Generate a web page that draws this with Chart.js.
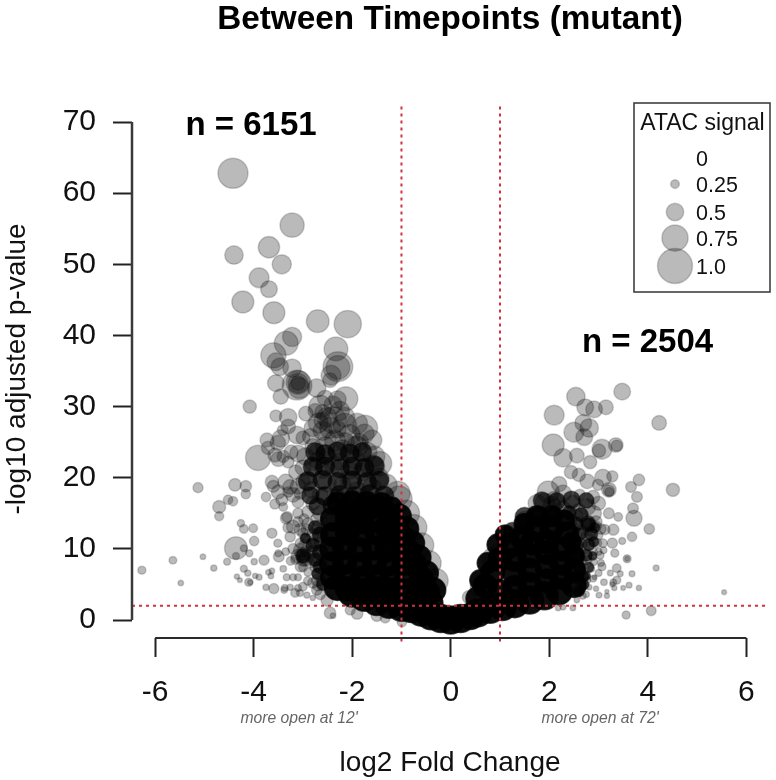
<!DOCTYPE html>
<html><head><meta charset="utf-8">
<style>html,body{margin:0;padding:0;background:#fff}canvas{display:block;filter:blur(0.45px)}</style>
<script src="https://cdn.jsdelivr.net/npm/chart.js@4"></script>
</head><body><canvas id="c" width="776" height="780"></canvas>
<script>
// [log2FC, -log10 padj, ATAC signal]
const leftHigh=[[-4.42,62.8,.86],[-3.22,55.5,.69],[-3.69,52.4,.61],[-4.40,51.3,.53],[-3.43,50,.55],[-3.89,48.1,.57],[-3.69,46.5,.48],[-4.22,44.7,.63],[-3.59,43.2,.63],[-2.7,42,.65],[-2.09,41.6,.78],[-3.22,39.8,.55],[-3.34,38.9,.68],[-3.6,37.2,.72],[-3.55,36.3,.51],[-3.47,35.6,.5],[-3.22,35.4,.53],[-2.33,38.1,.68],[-2.29,35.6,.85],[-2.29,35.5,.68],[-2.43,34.4,.57],[-3.1,33.4,.68],[-3.1,33.3,.57],[-3.1,33.3,.42],[-3.12,33,.85],[-3.08,32.6,.6],[-3.55,33.3,.48],[-2.72,32.6,.53]];
const leftMid=[[-3.45,31.4,.44],[-2.45,33.7,.42],[-2.13,31.1,.69],[-4.08,30,.38],[-3.55,28.7,.34],[-3.3,28.5,.5],[-2.94,29,.42],[-2.65,30,.65],[-2.39,30.2,.52],[-2.39,28.1,.76],[-2.15,28.5,.57],[-2.51,28.5,.57],[-2.69,27.7,.57],[-1.74,27,.72],[-2.15,27.4,.67],[-2.3,26.8,.5],[-2.6,29.2,.45],[-3.41,26.7,.31],[-3.12,26,.5],[-3.73,25.3,.4],[-3.51,24.9,.44],[-3.71,24.2,.38],[-3.91,22.8,.72],[-3.24,23.6,.4],[-3.57,23.2,.4],[-3.3,22.2,.34],[-3.4,23,.35],[-3,25.6,.4],[-2.51,25.6,.5],[-2.72,23.6,.48],[-2.39,21.8,.5],[-1.7,23.6,.57],[-1.6,25.3,.57],[-1.44,22,.68],[-1.58,21.5,.67],[-1.07,17.8,.69],[-2.8,24.4,.45],[-2.7,22.4,.48],[-2.5,23,.5],[-2.2,24,.55],[-2,24.6,.5],[-1.95,22.6,.55],[-2.25,22.3,.5],[-2.6,21,.45],[-2.05,21,.5],[-1.8,20.8,.5],[-2.83,22,.4],[-1.85,25,.5],[-1.45,20,.55],[-1.3,19,.6],[-2.8,27,.5],[-2.6,26.6,.55],[-2.45,27,.6],[-2.25,29.4,.55],[-2.05,26,.6],[-1.9,27.6,.6],[-2.35,25.2,.6],[-2.85,25.8,.45],[-2.6,28,.5],[-2.75,29.4,.42],[-2.3,31,.5],[-2.55,31.2,.45],[-1.9,24.4,.6],[-1.55,23,.6],[-1.75,26.2,.55],[-2.55,24.4,.55],[-2.15,25,.55],[-3.45,25.5,.5],[-3.3,27.2,.42],[-3.1,23.4,.48],[-3.5,22.6,.42],[-3.35,19.4,.45],[-3.2,17.6,.42],[-3.5,18,.4],[-3.1,18.8,.45],[-3,21.4,.45],[-3.15,20.8,.4],[-2.95,23,.5]];
const leftFringe=[[-3.63,19.4,.38],[-3.6,18.8,.35],[-3.26,18.7,.42],[-3.3,18,.3],[-3.06,17.8,.34],[-3.57,16.3,.29],[-3.43,16.9,.34],[-3.32,14.5,.31],[-3.1,16.6,.34],[-2.82,18.3,.48],[-2.51,19.3,.53],[-2.04,19.7,.57],[-2.8,16.4,.4],[-3.0,19.5,.4],[-3.4,15.9,.25],[-2.9,20,.4],[-2.2,19,.5],[-2.65,17.6,.45],[-2.3,17.2,.5],[-1.9,18.2,.5],[-1.6,18.6,.55],[-2.98,14.2,.3],[-3,9.1,.45],[-3,9.2,.35],[-2.95,9.6,.3],[-3.2,13.1,.38],[-3.34,14.3,.33],[-2.9,6.7,.23],[-2.8,5.2,.3],[-3.06,12.7,.34],[-2.82,10.8,.3],[-3.06,10.8,.28],[-3.26,11.7,.3],[-3.15,8.5,.28],[-2.92,12.7,.33],[-2.72,14.1,.35],[-3.33,6,.2],[-3.2,6,.2],[-3.1,6,.2],[-3.06,3.8,.2],[-3.16,3.8,.25],[-2.92,3.5,.18],[-2.8,3.1,.15],[-2.72,4.2,.3],[-3.26,4.6,.18],[-3.1,4.5,.2],[-3.37,4.5,.2],[-2.51,2.8,.35],[-2.62,5.6,.3],[-2.62,8.4,.32],[-2.65,10.8,.35],[-2.75,7.5,.3],[-2.85,8.8,.28],[-2.6,12.5,.35],[-3.0,7.4,.25],[-2.95,11.5,.26],[-3.1,13.8,.3],[-3,12.2,.3],[-2.9,13.5,.35],[-2.8,12,.35],[-2.95,10.4,.4],[-2.8,9.6,.35],[-3.05,9.8,.4],[-2.85,8,.3],[-2.7,6.5,.3],[-2.9,5.5,.25],[-3,4.7,.25],[-2.7,5.6,.35],[-2.65,3.6,.3],[-3.3,13,.3],[-3.2,10,.3],[-3.35,9.6,.22],[-3.25,8.3,.25],[-3.05,7.5,.3],[-3.1,9,.4],[-2.95,8.6,.42],[-3,8.4,.35],[-2.75,11,.4],[-2.68,13,.4],[-2.65,15,.42],[-2.9,15.2,.35],[-3.1,15,.3],[-2.7,4.8,.3],[-.3,5.5,.7],[-.45,8,.72],[-.6,10.5,.72],[-.75,13,.75],[-.9,15,.75],[-1.05,17,.75]];
const leftSparse=[[-6.27,7,.23],[-5.64,8.4,.22],[-5.48,5.2,.16],[-5.03,8.9,.16],[-5.13,18.6,.29],[-4.81,7.3,.18],[-4.54,8.2,.2],[-4.7,15.9,.37],[-4.7,14.6,.26],[-4.52,16.9,.27],[-4.42,16.7,.27],[-4.38,19,.36],[-4.16,18.8,.33],[-4.16,17.7,.27],[-3.75,17.3,.27],[-4.36,10.1,.65],[-4.26,13.6,.21],[-4.2,12.8,.25],[-4.01,12.9,.25],[-3.99,11.1,.27],[-4.2,10.1,.2],[-4.36,9,.2],[-4.09,9.4,.2],[-3.99,8.2,.18],[-3.79,8.4,.29],[-3.63,12.2,.29],[-3.51,10.8,.23],[-3.49,8.9,.31],[-3.5,9.4,.2],[-4.2,7.2,.2],[-4.12,6.6,.18],[-4.34,6.1,.15],[-4.28,5.6,.14],[-4.1,5.3,.23],[-4.07,5.3,.15],[-3.97,6.2,.15],[-3.89,6,.17],[-3.7,6.7,.16],[-3.63,6.9,.16],[-3.65,6.2,.16],[-3.4,7.2,.19],[-3.75,4.6,.18],[-3.59,4.4,.29],[-3.38,4.2,.19],[-2.45,1,.33],[-2.39,.6,.16],[-1.9,.9,.33],[-2.04,1.4,.29],[-1.5,.6,.33],[-1.33,.3,.29],[-.99,-.3,.27]];
const rightHigh=[[3.48,32.1,.48],[2.54,31.4,.53],[2.1,28.8,.57],[2.73,29.9,.48],[2.91,29.6,.48],[3.15,29.9,.42],[4.23,27.7,.42],[2.5,26.4,.57],[2.81,27,.53],[2.69,27.7,.48],[2.71,25.7,.48],[2.08,24.6,.63],[2.28,22.8,.53],[2.56,23.1,.42],[3.07,24,.57],[3.01,23.8,.38],[3.35,24.6,.42],[3.37,24.5,.32],[2.83,22.2,.38],[2.44,20.8,.38],[2.6,20.4,.38],[2.77,19.5,.42],[2.2,19.1,.44],[3.09,20,.48],[3.28,20.2,.32],[3.82,19.7,.33],[3.66,18.7,.31],[4.51,18.3,.38],[3.78,17.3,.31],[3.21,18.3,.42],[3.21,18.2,.32],[2.99,19,.32],[3.22,18,.26],[3.7,15.7,.31],[3.72,14.3,.46],[3.4,14.5,.25],[3.21,15,.31],[4.03,12.8,.3],[3.68,11.7,.27],[3.48,11.1,.2],[3.3,12.7,.32],[3.13,12.7,.29]];
const rightSparse=[[3.58,8.6,.23],[3.58,8.6,.14],[4.17,7.3,.17],[3.37,7.3,.25],[3.68,6.5,.17],[3.44,6.5,.17],[3.37,5.6,.23],[3.62,4.9,.17],[3.5,4.5,.14],[3.82,4.5,.15],[5.55,3.9,.14],[3.56,.7,.23],[4.07,1.3,.28],[3.17,3.4,.15],[3.01,3.5,.17],[3.17,4,.12],[3.3,5.3,.19],[3.28,5,.14],[3.32,4.5,.15],[3.11,5.3,.19],[2.89,5.8,.19],[2.92,6,.14],[3.24,6.6,.17],[3.07,7.5,.23],[3.03,9.1,.23],[3.33,9.4,.23],[3.28,10.8,.29],[3.09,10.8,.25],[2.97,10.8,.27],[2.77,8.4,.27],[2.81,4.6,.16],[2.56,2.8,.16],[2.48,1.7,.16],[2.18,1.7,.16],[2.28,1.8,.16],[2.9,9.6,.22],[3.1,9.8,.2],[3,9.6,.2],[2.9,8.2,.22],[3.05,8,.2],[3,6.6,.2],[2.85,7.2,.2],[2.75,3.6,.18],[2.95,4.4,.15],[2.68,3.4,.2]];
const rightFringe=[[1.98,18,.63],[1.91,16.4,.57],[1.75,16.4,.51],[2.28,17.8,.48],[2.48,16.4,.46],[2.77,15.9,.48],[2.89,17.3,.38],[2.62,17.6,.32],[1.51,13.8,.61],[1.2,11.9,.53],[.86,8.7,.61],[1,9.4,.6],[.6,4.6,.57],[.37,3.2,.38],[2.78,13.6,.46],[2.78,13.6,.42],[2.78,13.7,.38],[2.76,13.5,.34],[2.28,15.5,.48],[2.52,14.5,.46],[2.48,12.7,.4],[2.76,11.7,.35],[2.48,9.4,.3],[2.62,7,.3],[2.56,4.2,.3],[2.77,5.6,.2],[2.05,16.2,.5],[2.1,15.9,.45],[2.6,15.4,.4],[2.72,10,.3],[2.65,8.4,.3],[2.85,12.5,.3],[2.95,13.2,.3],[3,11.9,.25],[2.62,5.4,.3],[2.1,17,.45],[2.4,14,.45],[2.65,12.4,.4],[2.65,10.7,.35],[2.9,15,.45],[3,16.4,.4],[2.95,13.8,.35],[3.05,12.8,.3]];
const darkCoreLeft=[[-2.75,23.6,.55],[-2.55,23.3,.55],[-2.3,23.7,.55],[-2.05,23.4,.55],[-1.8,23.6,.55],[-2.8,21.5,.55],[-2.55,21.6,.55],[-2.25,21.3,.55],[-2,21.6,.55],[-1.75,21.4,.55],[-1.55,21.7,.55],[-2.9,19.5,.55],[-2.6,19.7,.55],[-2.3,19.4,.55],[-2,19.6,.55],[-1.7,19.4,.55],[-1.45,19.6,.55],[-2.85,17.5,.5],[-2.55,17.4,.55],[-2.25,17.6,.55],[-1.95,17.4,.55],[-1.65,17.7,.55],[-1.35,17.5,.55],[-2.7,16,.5],[-2.4,16.1,.55],[-2.1,15.9,.55],[-1.8,16.2,.55],[-1.5,16,.55],[-2.75,13,.4],[-2.8,10.5,.4],[-2.75,8.5,.4],[-2.7,6.5,.35],[-3,9,.4],[-2.95,11.5,.3],[-2.65,12,.45],[-2.65,9.5,.45],[-2.65,7.5,.4],[-2.6,5,.35]];
const darkCoreRight=[[2.1,15,.4],[2.4,15.1,.4],[2.65,14.8,.4],[2.55,13.5,.4],[2.8,13.4,.4],[2.6,12,.4],[2.85,12.1,.38],[2.55,10.5,.4],[2.8,10.6,.35],[2.55,9,.4],[2.75,9.1,.35],[2.6,7.5,.35],[2.8,7.4,.3],[2.55,6,.35],[2.7,6.1,.3],[1.85,16.8,.5],[2.15,16.7,.5],[2.45,16.9,.5],[2.75,16.8,.45],[1.5,14.5,.55],[1.8,14.6,.55],[1.25,12.5,.5],[2.9,11,.3],[2.92,13,.3],[2.7,5,.3],[2.75,6.2,.25],[2.88,9,.25],[2.6,4,.3]];
const blackCoreLeft=[[0,0,.8],[-.2,.2,.8],[.2,.2,.8],[-.4,.6,.8],[.4,.5,.75],[-.6,1.1,.8],[-.8,1.6,.8],[-1,1.8,.8],[-1.25,2.2,.8],[-1.5,2.6,.8],[-1.75,3.2,.8],[-2,3.8,.8],[-2.3,4.6,.75],[-.47,3.9,.68],[-.6,5.8,.68],[-.72,7.7,.68],[-.85,9.6,.68],[-.97,11.5,.68],[-1.1,13,.68],[-1.22,14.3,.68],[-1.5,15.9,.68],[-1.8,15.4,.68],[-2.1,14.7,.68],[-2.4,14.2,.68],[-2.4,12,.68],[-2.1,12.2,.68],[-1.8,12,.68],[-1.5,12.2,.68],[-1.25,11.8,.68],[-2.42,10,.68],[-2.15,10.2,.68],[-1.85,9.9,.68],[-1.55,10.1,.68],[-1.3,9.8,.68],[-1.05,9.9,.68],[-2.42,7.9,.68],[-2.15,8.1,.68],[-1.85,7.8,.68],[-1.55,8,.68],[-1.25,7.9,.68],[-.95,7.9,.68],[-2.4,6,.68],[-2.1,6.1,.68],[-1.8,5.9,.68],[-1.5,6.1,.68],[-1.2,5.9,.68],[-.9,6,.68],[-2.1,4.4,.68],[-1.8,4.2,.68],[-1.5,4.4,.68],[-1.2,4.2,.68],[-.9,4.1,.68],[-.65,3.9,.68],[-.4,2.4,.68],[-.7,2.5,.68],[-1.05,2.6,.68],[-1.5,14,.68],[-1.8,13.8,.68],[-2.1,13.6,.68],[-1.3,13,.68],[-2.3,16.5,.6],[-2,16.7,.6],[-1.7,16.6,.6],[-1.4,16.4,.6],[-1.2,15.8,.6],[-.35,4.2,.7],[-.5,6.6,.7],[-.65,8.8,.7],[-.78,10.8,.7],[-.9,12.8,.7],[-1.05,14.6,.7]];
const blackCoreRight=[[.55,1,.8],[.8,1.5,.8],[1.05,1.9,.8],[1.3,2.3,.8],[1.6,2.8,.8],[1.9,3.4,.8],[2.2,4,.75],[2.5,4.9,.7],[.55,3,.68],[.7,4.8,.68],[.85,6.7,.68],[1,8.5,.68],[1.2,10.4,.68],[1.45,11.6,.68],[1.75,12.8,.68],[2.05,12.9,.68],[2.35,12.1,.68],[1,4,.68],[1.3,4.6,.68],[1.3,6.5,.68],[1.3,8.5,.68],[1.6,5,.68],[1.6,7,.68],[1.6,9,.68],[1.65,10.8,.68],[1.95,5.5,.68],[1.95,7.5,.68],[1.95,9.5,.68],[1.95,11,.68],[2.25,6,.68],[2.25,8,.68],[2.25,10,.68],[2.5,7,.65],[2.5,9,.6],[2.45,11,.55],[.75,8,.6],[.95,10.6,.6],[1.1,12,.55],[1.5,13.5,.6],[1.75,14.6,.6],[2.05,14.6,.6],[2.3,14,.6],[.6,5.6,.6]];
const xTicks=[-6,-4,-2,0,2,4,6];
const yTicks=[0,10,20,30,40,50,60,70];
const foldCutoffs=[-1,1];
const pCutoff=2;
const legendSignals=[0,.25,.5,.75,1];
const legendLabels=['0','0.25','0.5','0.75','1.0'];

const FONT='"Liberation Sans", Arial, sans-serif';
const R_MAX=17.5, XMIN=-6.47, XMAX=6.44, YMIN=-2.53, YMAX=73.1;
const pts=a=>a.map(p=>({x:p[0],y:p[1],r:p[2]*R_MAX}));
const bub=(a,bg,bd)=>({type:'bubble',data:pts(a),backgroundColor:bg,borderColor:bd,borderWidth:1.5,clip:false});
const GRAY='rgba(0,0,0,0.27)',EDGE='rgba(0,0,0,0.18)';
const red=(data)=>({type:'line',data,borderColor:'rgb(203,52,64)',borderWidth:2,borderDash:[3,4],pointRadius:0,fill:false,clip:false,tension:0});

const annot={id:'annot',
 afterDatasetsDraw(ch){
  const g=ch.ctx,x=ch.scales.x,y=ch.scales.y;
  g.save();
  g.strokeStyle='#2a2a2a';g.lineWidth=2;
  g.beginPath();g.moveTo(x.getPixelForValue(-6),ch.chartArea.bottom);g.lineTo(x.getPixelForValue(6),ch.chartArea.bottom);g.stroke();
  g.lineWidth=2.5;g.strokeStyle='#3a3a3a';
  g.beginPath();g.moveTo(ch.chartArea.left,y.getPixelForValue(70));g.lineTo(ch.chartArea.left,y.getPixelForValue(0));g.stroke();
  g.fillStyle='#000';g.textBaseline='middle';g.textAlign='center';
  g.font='bold 33px '+FONT;
  g.fillText('n = 6151',251,126);
  g.fillText('n = 2504',647.5,343);
  g.font='italic 15.7px '+FONT;g.fillStyle='#666';
  g.fillText("more open at 12'",299,719);
  g.fillText("more open at 72'",600,719);
  // legend box
  g.fillStyle='#fff';g.strokeStyle='#333';g.lineWidth=1.5;
  g.fillRect(634,103,136,189);g.strokeRect(634,103,136,189);
  g.fillStyle='#111';g.font='23px '+FONT;g.fillText('ATAC signal',702.5,124);
  const ys=[158,184,212,238,266];
  legendSignals.forEach((s,i)=>{
    if(s>0){g.beginPath();g.arc(675,ys[i],s*R_MAX,0,Math.PI*2);g.fillStyle=GRAY;g.fill();g.strokeStyle=EDGE;g.lineWidth=1.5;g.stroke();}
  });
  g.fillStyle='#111';g.textAlign='left';g.font='21.5px '+FONT;
  legendSignals.forEach((s,i)=>g.fillText(legendLabels[i],696,ys[i]+2));
  g.restore();
 }};

new Chart(document.getElementById('c'),{
 type:'bubble',
 data:{datasets:[
  red([{x:foldCutoffs[0],y:YMIN-.5},{x:foldCutoffs[0],y:72.6}]),
  red([{x:foldCutoffs[1],y:YMIN-.5},{x:foldCutoffs[1],y:72.6}]),
  red([{x:XMIN,y:pCutoff},{x:XMAX,y:pCutoff}]),
  bub(blackCoreLeft,'rgba(0,0,0,0.95)','rgba(0,0,0,0.7)'),
  bub(blackCoreRight,'rgba(0,0,0,0.95)','rgba(0,0,0,0.7)'),
  bub(darkCoreLeft,'rgba(0,0,0,0.72)','rgba(0,0,0,0.3)'),
  bub(darkCoreRight,'rgba(0,0,0,0.72)','rgba(0,0,0,0.3)'),
  bub(leftHigh,GRAY,EDGE),bub(leftMid,GRAY,EDGE),bub(leftFringe,GRAY,EDGE),bub(leftSparse,GRAY,EDGE),
  bub(rightHigh,GRAY,EDGE),bub(rightSparse,GRAY,EDGE),bub(rightFringe,GRAY,EDGE)
 ]},
 options:{
  responsive:false,animation:false,events:[],
  layout:{autoPadding:false,padding:{left:0,right:8,top:0,bottom:0}},
  plugins:{legend:{display:false},tooltip:{enabled:false},
   title:{display:true,fullSize:false,text:'Between Timepoints (mutant)',color:'#000',font:{family:FONT,size:33.3,weight:'bold',lineHeight:1.2},padding:{top:0,bottom:60},align:'center'}},
  scales:{
   x:{type:'linear',min:XMIN,max:XMAX,
    afterBuildTicks:s=>{s.ticks=xTicks.map(v=>({value:v}))},
    afterFit:s=>{s.height=142},
    border:{display:false},
    grid:{drawOnChartArea:false,drawTicks:true,tickLength:19,tickWidth:2,tickColor:'#222'},
    ticks:{color:'#111',font:{family:FONT,size:30},padding:18,maxRotation:0,autoSkip:false,callback:v=>String(v)},
    title:{display:true,text:'log2 Fold Change',color:'#111',font:{family:FONT,size:28},padding:{top:0,bottom:0}}},
   y:{type:'linear',min:YMIN,max:YMAX,
    afterBuildTicks:s=>{s.ticks=yTicks.map(v=>({value:v}))},
    afterFit:s=>{s.width=132},
    border:{display:false},
    grid:{drawOnChartArea:false,drawTicks:true,tickLength:19,tickWidth:2,tickColor:'#222'},
    ticks:{color:'#111',font:{family:FONT,size:30},padding:17,autoSkip:false,callback:v=>String(v)},
    title:{display:true,text:'-log10 adjusted p-value',color:'#111',font:{family:FONT,size:28},padding:{top:0,bottom:0}}}
  }
 },
 plugins:[annot]
});
</script></body></html>
